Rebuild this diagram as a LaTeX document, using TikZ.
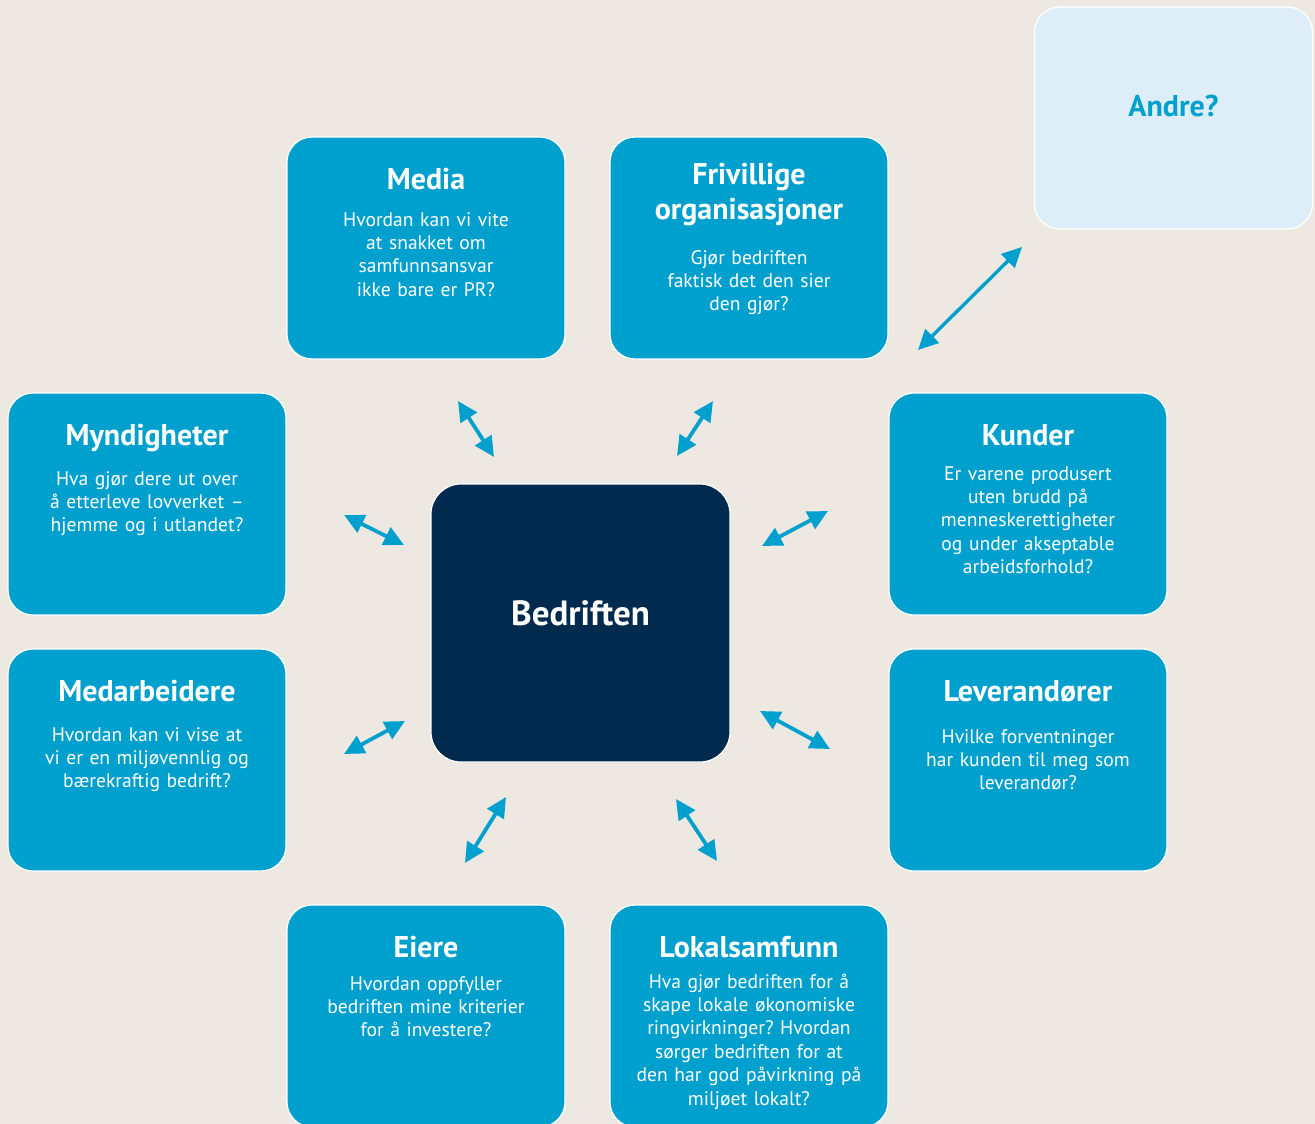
\documentclass[tikz,border=0pt]{standalone}
\usepackage{fontspec}
\setmainfont{PT Sans}
\usetikzlibrary{arrows.meta}
\frenchspacing
\definecolor{bg}{HTML}{EDE9E2}
\definecolor{boxblue}{HTML}{00A0CE}
\definecolor{navy}{HTML}{002A4E}
\definecolor{lightblue}{HTML}{DDEEF8}
\newcommand{\mybodyfont}{\fontsize{19.6}{23.4}\selectfont\spaceskip=0.23em plus 0.1em\relax}
\tikzset{
  sbox/.style={draw=white, line width=1.2pt, fill=boxblue, rounded corners=25pt,
    minimum width=278pt, minimum height=222pt, inner sep=0pt},
  ttl/.style={text=white, font=\fontsize{30}{35}\selectfont\bfseries, text width=276pt,
    align=center, anchor=base, inner sep=0pt},
  bdy/.style={text=white, font=\mybodyfont, text width=276pt,
    align=center, anchor=base, inner sep=0pt},
  arr/.style={draw=boxblue, line width=3.8pt, {Triangle[length=20pt,width=19pt]}-{Triangle[length=20pt,width=19pt]}}
}
\begin{document}
\begin{tikzpicture}[x=1pt,y=-1pt]
\fill[bg] (0,0) rectangle (1315,1124);
\useasboundingbox (0,0) rectangle (1315,1124);

% boxes
\node[sbox] (media) at (426,248) {};
\node[sbox] (friv) at (749,248) {};
\node[sbox, fill=lightblue] (andre) at (1173.5,118) {};
\node[sbox] (mynd) at (147,504) {};
\node[sbox] (kund) at (1028,504) {};
\node[sbox] (medarb) at (147,760) {};
\node[sbox] (lev) at (1028,760) {};
\node[sbox] (eier) at (426,1016) {};
\node[sbox] (lokal) at (749,1016) {};
\node[draw=white, line width=1.2pt, fill=navy, rounded corners=30pt, minimum width=299pt,
  minimum height=278pt, inner sep=0pt] (bed) at (580.5,623) {};

% texts
\node[ttl] (mediaT) at (426,189) {Media};
\node[bdy] (mediaB) at (426,226) {Hvordan kan vi vite\\at snakket om\\samfunnsansvar\\ikke bare er PR?};

\node[ttl] (frivT) at (749,184) {Frivillige\\organisasjoner};
\node[bdy] (frivB) at (749,264) {Gjør bedriften\\faktisk det den sier\\den gjør?};

\node[ttl, text=boxblue] (andreT) at (1173.5,117) {Andre?};

\node[ttl] (myndT) at (147,445) {Myndigheter};
\node[bdy] (myndB) at (147,485) {Hva gjør dere ut over\\å etterleve lovverket –\\hjemme og i utlandet?};

\node[ttl] (kundT) at (1028,445) {Kunder};
\node[bdy] (kundB) at (1028,480) {Er varene produsert\\uten brudd på\\menneskerettigheter\\og under akseptable\\arbeidsforhold?};

\node[ttl] (medarbT) at (147,701) {Medarbeidere};
\node[bdy] (medarbB) at (147,741) {Hvordan kan vi vise at\\vi er en miljøvennlig og\\bærekraftig bedrift?};

\node[ttl] (levT) at (1028,701) {Leverandører};
\node[bdy] (levB) at (1028,743) {Hvilke forventninger\\har kunden til meg som\\leverandør?};

\node[ttl] (eierT) at (426,957) {Eiere};
\node[bdy] (eierB) at (426,990) {Hvordan oppfyller\\bedriften mine kriterier\\for å investere?};

\node[ttl] (lokalT) at (749,957) {Lokalsamfunn};
\node[bdy] (lokalB) at (749,988) {Hva gjør bedriften for å\\skape lokale økonomiske\\ringvirkninger? Hvordan\\sørger bedriften for at\\den har god påvirkning på\\miljøet lokalt?};

\node[text=white, font=\fontsize{35}{40}\selectfont\bfseries, anchor=base, inner sep=0pt] (bedT) at (580.5,625) {Bedriften};

% arrow end coordinates
\coordinate (m1) at (458,401); \coordinate (m2) at (494,457);
\coordinate (f1) at (713,401); \coordinate (f2) at (677,456);
\coordinate (a1) at (918,350); \coordinate (a2) at (1022,247);
\coordinate (y1) at (344,515); \coordinate (y2) at (404,545);
\coordinate (k1) at (762,546); \coordinate (k2) at (828,511);
\coordinate (d1) at (344,754); \coordinate (d2) at (405,721);
\coordinate (l1) at (760,711); \coordinate (l2) at (830,749);
\coordinate (e1) at (506,797); \coordinate (e2) at (465,863);
\coordinate (o1) at (676,799); \coordinate (o2) at (717,861);

\draw[arr] (m1) -- (m2);
\draw[arr] (f1) -- (f2);
\draw[arr, line width=3.4pt] (a1) -- (a2);
\draw[arr] (y1) -- (y2);
\draw[arr] (k1) -- (k2);
\draw[arr] (d1) -- (d2);
\draw[arr] (l1) -- (l2);
\draw[arr] (e1) -- (e2);
\draw[arr] (o1) -- (o2);
\end{tikzpicture}
\end{document}
